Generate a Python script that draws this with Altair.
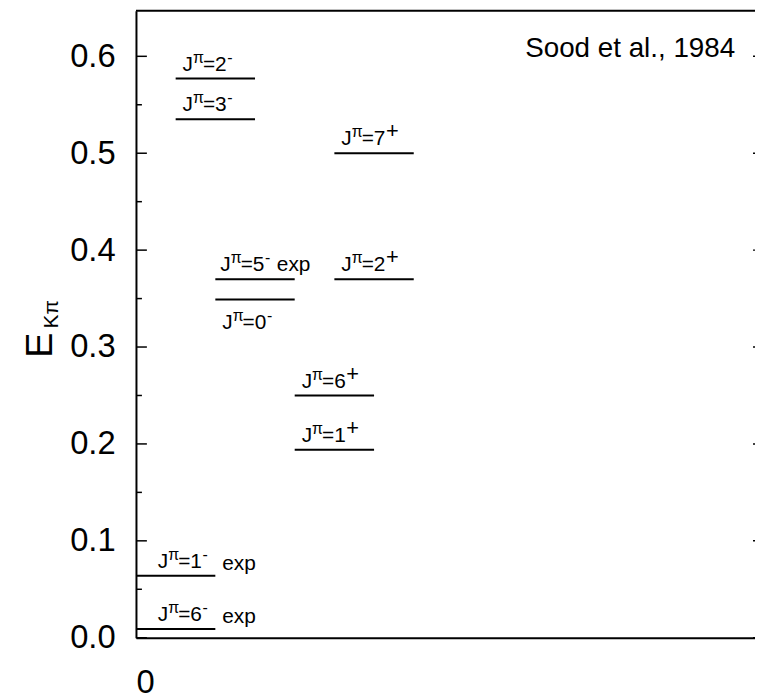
import altair as alt
import pandas as pd

# ---- data ----
spin = ["2", "3", "7", "5", "0", "2", "6", "1", "1", "6"]
parity = ["-", "-", "+", "-", "-", "+", "+", "+", "-", "-"]
energy = [0.577, 0.535, 0.500, 0.370, 0.349, 0.370, 0.250, 0.194, 0.064, 0.009]
slot_start = [1, 1, 5, 2, 2, 5, 4, 4, 0, 0]
slot_end = [3, 3, 7, 4, 4, 7, 6, 6, 2, 2]
label_group = ["std", "std", "std", "inline_exp", "below", "std", "std", "std", "after_exp", "after_exp"]

y_major = [0.0, 0.1, 0.2, 0.3, 0.4, 0.5, 0.6]
y_minor = [0.05, 0.15, 0.25, 0.35, 0.45, 0.55]
x_ticks = [0]

source_text = ["Sood et al., 1984"]
source_x = [15.1]
source_y = [0.608]

FONT = "Liberation Sans"
W, H = 624, 632

df = pd.DataFrame({
    "spin": spin, "parity": parity, "E": energy,
    "x0": slot_start, "x1": slot_end, "group": label_group,
})
df["xc"] = (df["x0"] + df["x1"]) / 2
df["eq"] = "=" + df["spin"]

xscale = alt.Scale(domain=[0, 15.6], nice=False, zero=False)
yscale = alt.Scale(domain=[0, 0.647], nice=False, zero=False)

x_axis = alt.Axis(values=x_ticks, format="d", labelFontSize=33, labelFont=FONT,
                  labelColor="black", ticks=False, grid=False, domainColor="black",
                  domainWidth=2, labelPadding=29, title=None)
y_axis = alt.Axis(values=y_major, format=".1f", labelFontSize=33, labelFont=FONT,
                  labelColor="black", ticks=False, grid=False, domainColor="black",
                  domainWidth=2, labelPadding=21, title=None)


def X(field):
    return alt.X(field, type="quantitative", scale=xscale, axis=x_axis)


def Y(field):
    return alt.Y(field, type="quantitative", scale=yscale, axis=y_axis)


levels = alt.Chart(df).mark_rule(strokeWidth=2, color="black").encode(
    x=X("x0"), x2="x1", y=Y("E"))

ticks_major = alt.Chart(pd.DataFrame({"v": y_major})).mark_rule(
    strokeWidth=1.5, color="black").encode(y=Y("v"), x=alt.value(0), x2=alt.value(11))
ticks_minor = alt.Chart(pd.DataFrame({"v": y_minor})).mark_rule(
    strokeWidth=1.5, color="black").encode(y=Y("v"), x=alt.value(0), x2=alt.value(6))
ticks_right = alt.Chart(pd.DataFrame({"v": y_major})).mark_rule(
    strokeWidth=1.5, color="black").encode(y=Y("v"), x=alt.value(W - 2), x2=alt.value(W))
top_line = alt.Chart(pd.DataFrame({"v": [0.647]})).mark_rule(
    strokeWidth=2, color="black").encode(y=Y("v"), x=alt.value(0), x2=alt.value(W))


def label_layers(group, start, dy, exp_dx=None, exp_dy=0):
    b = alt.Chart(df).transform_filter(alt.datum.group == group)
    enc = dict(x=X("xc"), y=Y("E"))
    common = dict(align="left", baseline="alphabetic", font=FONT, color="black")
    out = [
        b.mark_text(dx=start, dy=dy, fontSize=21, **common).encode(text=alt.value("J"), **enc),
        b.mark_text(dx=start + 10.5, dy=dy - 8, fontSize=16, **common).encode(text=alt.value("π"), **enc),
        b.mark_text(dx=start + 20.5, dy=dy, fontSize=21, **common).encode(text="eq:N", **enc),
        b.transform_filter(alt.datum.parity == "-").mark_text(
            dx=start + 45, dy=dy - 8, fontSize=16, **common).encode(text=alt.value("-"), **enc),
        b.transform_filter(alt.datum.parity == "+").mark_text(
            dx=start + 45, dy=dy - 7, fontSize=22, **common).encode(text=alt.value("+"), **enc),
    ]
    if exp_dx is not None:
        out.append(b.mark_text(dx=start + exp_dx, dy=dy + exp_dy, fontSize=21, **common)
                   .encode(text=alt.value("exp"), **enc))
    return out


labels = []
labels += label_layers("std", -33, -8)
labels += label_layers("inline_exp", -35, -8, exp_dx=57)
labels += label_layers("below", -33, 30)
labels += label_layers("after_exp", -18, -8, exp_dx=65, exp_dy=2)

source = alt.Chart(pd.DataFrame({"t": source_text, "x": source_x, "y": source_y})).mark_text(
    align="right", baseline="middle", fontSize=28, font=FONT, color="black").encode(
    x=X("x"), y=Y("y"), text="t:N")

title_E = alt.Chart(pd.DataFrame({"t": ["E"]})).mark_text(
    angle=270, align="center", baseline="middle", fontSize=38, font=FONT, color="black").encode(
    x=alt.value(-96), y=alt.value(337), text="t:N")
title_sub = alt.Chart(pd.DataFrame({"t": ["Kπ"]})).mark_text(
    angle=270, align="center", baseline="middle", fontSize=21, font=FONT, color="black").encode(
    x=alt.value(-85), y=alt.value(306), text="t:N")

chart = alt.layer(levels, ticks_major, ticks_minor, ticks_right, top_line, *labels,
                  source, title_E, title_sub).properties(
    width=W, height=H,
    autosize=alt.AutoSizeParams(type="none"),
    padding={"left": 129, "top": 0, "right": 0, "bottom": 64},
).configure_view(stroke=None)

chart.save("out.html", embed_options={"renderer": "svg", "actions": False})
